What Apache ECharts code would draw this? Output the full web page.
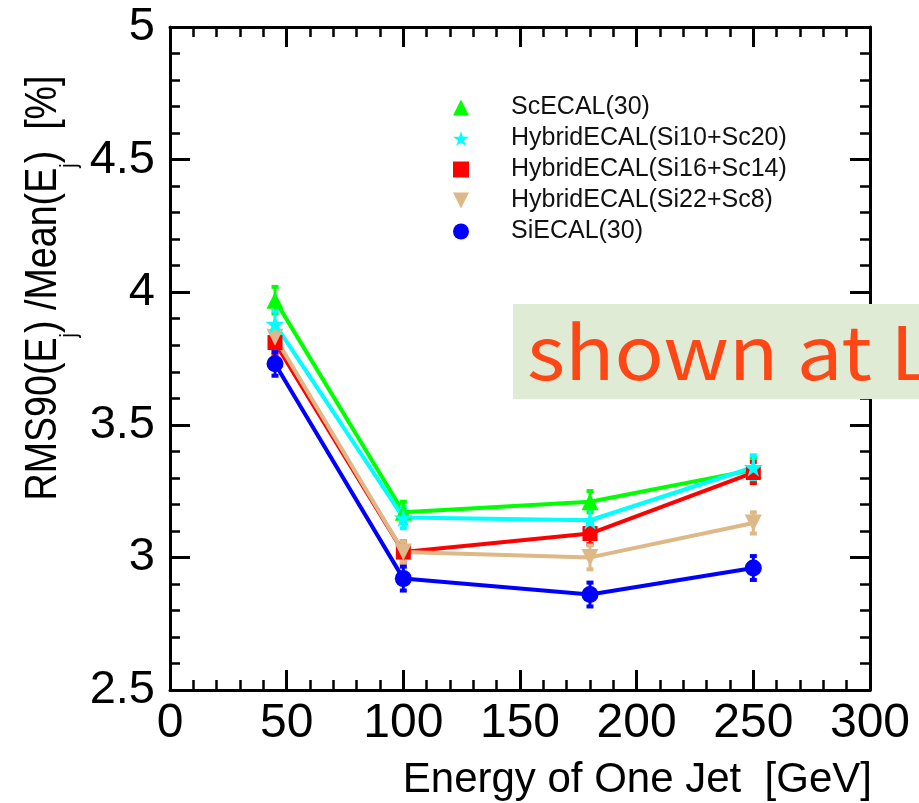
<!DOCTYPE html>
<html>
<head>
<meta charset="utf-8">
<script src="https://cdn.jsdelivr.net/npm/echarts@6/dist/echarts.min.js"></script>
<style>
  html, body { margin: 0; padding: 0; background: #fff; }
  #chart { width: 919px; height: 803px; }
</style>
</head>
<body>
<div id="chart"></div>
<script>
// Jet energy resolution vs. jet energy for five ECAL configurations
const energies = [45, 100, 180, 250];

const seriesNames = [
  'ScECAL(30)',
  'HybridECAL(Si10+Sc20)',
  'HybridECAL(Si16+Sc14)',
  'HybridECAL(Si22+Sc8)',
  'SiECAL(30)'
];

const scEcal      = [3.97, 3.17, 3.21, 3.33];
const hybrid10_20 = [3.88, 3.15, 3.14, 3.34];
const hybrid16_14 = [3.81, 3.02, 3.09, 3.32];
const hybrid22_8  = [3.83, 3.02, 3.00, 3.13];
const siEcal      = [3.73, 2.92, 2.86, 2.96];

const scEcalErr      = [0.05, 0.04, 0.04, 0.045];
const hybrid10_20Err = [0.05, 0.04, 0.045, 0.045];
const hybrid16_14Err = [0.045, 0.04, 0.04, 0.04];
const hybrid22_8Err  = [0.045, 0.04, 0.045, 0.04];
const siEcalErr      = [0.045, 0.045, 0.045, 0.045];

const xTicks = [0, 50, 100, 150, 200, 250, 300];
const yTicks = [2.5, 3, 3.5, 4, 4.5, 5];

// y-axis title pieces: [text, isSubscript]
const yTitleParts = [
  ['RMS90(E', false], ['j', true], [') /Mean(E', false], ['j', true], [')  [%]', false]
];

const values = [scEcal, hybrid10_20, hybrid16_14, hybrid22_8, siEcal];
const errors = [scEcalErr, hybrid10_20Err, hybrid16_14Err, hybrid22_8Err, siEcalErr];
const colors = ['#00ff00', '#00ffff', '#ff0000', '#deb887', '#0000ff'];
const STAR = 'path://M50,0 L61,35 L98,35 L68,57 L79,91 L50,70 L21,91 L32,57 L2,35 L39,35 Z';
const DOWN = 'path://M0,0 L100,0 L50,100 Z';
const symbols = ['triangle', STAR, 'rect', DOWN, 'circle'];
const symbolSizes = [17, 19, 15, 17, 17];
// stacking: later entries paint over earlier ones
const layer = [1, 4, 2, 3, 5];

const SANS = '"Liberation Sans", Arial, sans-serif';

function errorBarRenderer(color) {
  return function (params, api) {
    const x = api.value(0), y = api.value(1), e = api.value(2);
    const lo = api.coord([x, y - e]);
    const hi = api.coord([x, y + e]);
    const capW = 7, capH = 4;
    return {
      type: 'group',
      children: [
        { type: 'line', shape: { x1: lo[0], y1: lo[1], x2: hi[0], y2: hi[1] },
          style: { stroke: color, lineWidth: 3 } },
        { type: 'rect', shape: { x: hi[0] - capW / 2, y: hi[1] - capH / 2, width: capW, height: capH },
          style: { fill: color } },
        { type: 'rect', shape: { x: lo[0] - capW / 2, y: lo[1] - capH / 2, width: capW, height: capH },
          style: { fill: color } }
      ]
    };
  };
}

const series = [];
seriesNames.forEach(function (name, i) {
  const pts = energies.map(function (x, k) { return [x, values[i][k]]; });
  const errPts = energies.map(function (x, k) { return [x, values[i][k], errors[i][k]]; });
  series.push({
    name: name + ' line',
    type: 'line',
    data: pts,
    showSymbol: false,
    symbol: 'none',
    lineStyle: { color: colors[i], width: 4 },
    silent: true,
    animation: false,
    z: 2 + layer[i] * 0.1
  });
  series.push({
    name: name + ' err',
    type: 'custom',
    data: errPts,
    renderItem: errorBarRenderer(colors[i]),
    silent: true,
    animation: false,
    z: 3 + layer[i] * 0.1
  });
  series.push({
    name: name,
    type: 'scatter',
    data: pts,
    symbol: symbols[i],
    symbolSize: symbolSizes[i],
    itemStyle: { color: colors[i], opacity: 1 },
    animation: false,
    z: 4 + layer[i] * 0.1
  });
});

function axisCommon(showLabel) {
  return {
    axisLine: { show: true, onZero: false, lineStyle: { color: '#000', width: 3 } },
    axisTick: { show: true, inside: true, length: 20, lineStyle: { color: '#000', width: 3 } },
    minorTick: { show: true, splitNumber: 5, length: 10, lineStyle: { color: '#000', width: 2.5 } },
    splitLine: { show: false },
    minorSplitLine: { show: false },
    axisLabel: { show: showLabel }
  };
}

const xBottom = Object.assign(axisCommon(true), {
  type: 'value', position: 'bottom',
  min: xTicks[0], max: xTicks[xTicks.length - 1], interval: xTicks[1] - xTicks[0]
});
xBottom.axisLabel = { show: true, color: '#000', fontSize: 48, fontFamily: SANS, margin: 10 };

const xTop = Object.assign(axisCommon(false), {
  type: 'value', position: 'top',
  min: xTicks[0], max: xTicks[xTicks.length - 1], interval: xTicks[1] - xTicks[0]
});

const yLeft = Object.assign(axisCommon(true), {
  type: 'value', position: 'left',
  min: yTicks[0], max: yTicks[yTicks.length - 1], interval: yTicks[1] - yTicks[0]
});
yLeft.axisLabel = { show: true, color: '#000', fontSize: 47, fontFamily: SANS, margin: 15 };

const yRight = Object.assign(axisCommon(false), {
  type: 'value', position: 'right',
  min: yTicks[0], max: yTicks[yTicks.length - 1], interval: yTicks[1] - yTicks[0]
});

// Rotated y-axis title with lowered subscripts, laid out piece by piece
function buildYTitle(cx, cy, length) {
  const mainSize = 45, subSize = 24;
  const ctx = document.createElement('canvas').getContext('2d');
  const widths = yTitleParts.map(function (p) {
    ctx.font = (p[1] ? subSize : mainSize) + 'px "Liberation Sans", Arial, sans-serif';
    return ctx.measureText(p[0]).width;
  });
  const total = widths.reduce(function (a, b) { return a + b; }, 0);
  let pos = -total / 2;
  const children = yTitleParts.map(function (p, i) {
    const el = {
      type: 'text',
      x: pos,
      y: p[1] ? 25 : 0,
      style: {
        text: p[0],
        font: (p[1] ? subSize : mainSize) + 'px ' + SANS,
        fill: '#000',
        align: 'left',
        verticalAlign: 'middle'
      }
    };
    pos += widths[i];
    return el;
  });
  return {
    type: 'group',
    x: cx, y: cy,
    rotation: Math.PI / 2,
    scaleX: length / total,
    children: children,
    z: 50
  };
}

const chart = echarts.init(document.getElementById('chart'), null, { renderer: 'canvas' });
chart.setOption({
  backgroundColor: '#fff',
  animation: false,
  grid: { left: 170, right: 49, top: 27, bottom: 113, containLabel: false },
  xAxis: [xBottom, xTop],
  yAxis: [yLeft, yRight],
  legend: {
    data: seriesNames,
    orient: 'vertical',
    left: 448,
    top: 90,
    itemWidth: 16,
    itemHeight: 16,
    itemGap: 6,
    selectedMode: false,
    textStyle: {
      color: '#111', fontSize: 25, fontFamily: SANS,
      padding: [0, 0, 0, 37]
    }
  },
  series: series,
  graphic: [
    buildYTitle(44, 288, 425),
    {
      type: 'text',
      right: 47, top: 759,
      style: {
        text: 'Energy of One Jet  [GeV]',
        font: '42px ' + SANS,
        fill: '#000'
      },
      z: 50
    },
    {
      type: 'rect',
      shape: { x: 513, y: 304, width: 410, height: 95 },
      style: { fill: '#e0ebd5' },
      z: 100
    },
    {
      type: 'text',
      x: 527, y: 315,
      scaleX: 1.1,
      style: {
        text: 'shown at L',
        font: '74px "Noto Sans CJK JP", "Noto Sans", sans-serif',
        fill: '#ff4716',
        verticalAlign: 'top'
      },
      z: 101
    }
  ]
});
</script>
</body>
</html>
